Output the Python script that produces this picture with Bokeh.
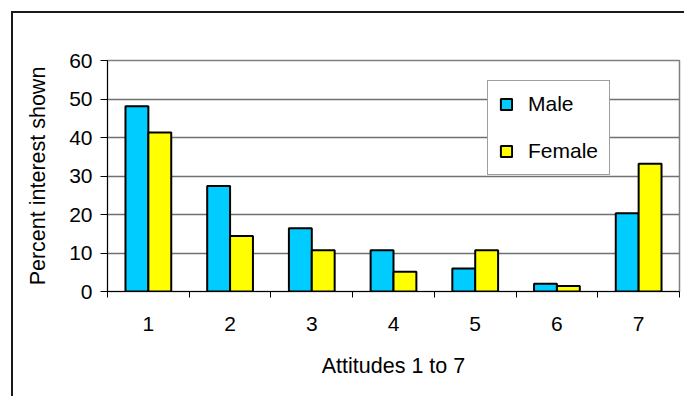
from bokeh.plotting import figure
from bokeh.models import ColumnDataSource, FixedTicker, Legend, LegendItem
from bokeh.embed import file_html
from bokeh.resources import INLINE
from bokeh.transform import dodge

# Attitude categories and the share of interest shown by each group
attitudes = [1, 2, 3, 4, 5, 6, 7]
male = [48.1, 27.4, 16.4, 10.7, 6.0, 2.0, 20.3]
female = [41.3, 14.4, 10.7, 5.1, 10.7, 1.4, 33.2]
y_ticks = [0, 10, 20, 30, 40, 50, 60]

FONT = "Liberation Sans"

source = ColumnDataSource(data=dict(x=attitudes, male=male, female=female))

p = figure(
    width=673, height=385,
    x_range=(0.5, 7.5), y_range=(0, 60),
    output_backend="svg", toolbar_location=None,
    min_border_left=94, min_border_right=7,
    min_border_top=47, min_border_bottom=107,
    background_fill_color="white", border_fill_color="white",
    outline_line_color="#808080", outline_line_width=1.5,
    styles={"border-left": "2px solid #1a1a1a", "border-top": "2px solid #1a1a1a"},
    margin=(11, 0, 0, 11),
)

r_male = p.vbar(x=dodge("x", -0.14, range=p.x_range), top="male", width=0.28,
                source=source, fill_color="#00CCFF", line_color="black", line_width=2)
r_female = p.vbar(x=dodge("x", 0.14, range=p.x_range), top="female", width=0.28,
                  source=source, fill_color="#FFFF00", line_color="black", line_width=2)

# Category labels sit at the centres, tick marks at the boundaries between groups
p.xaxis.ticker = FixedTicker(ticks=attitudes,
                             minor_ticks=[a - 0.5 for a in attitudes] + [attitudes[-1] + 0.5])
p.xaxis.major_tick_line_color = None
p.xaxis.minor_tick_line_color = "black"
p.xaxis.minor_tick_out = 6
p.xaxis.minor_tick_in = 0
p.xaxis.major_label_standoff = 19
p.xaxis.axis_label = "Attitudes 1 to 7"
p.xaxis.axis_label_standoff = 20

p.yaxis.ticker = FixedTicker(ticks=y_ticks)
p.yaxis.minor_tick_line_color = None
p.yaxis.major_tick_out = 7
p.yaxis.major_tick_in = 0
p.yaxis.major_label_standoff = 8
p.yaxis.axis_label = "Percent interest shown"
p.yaxis.axis_label_standoff = 16

for ax in (p.xaxis[0], p.yaxis[0]):
    ax.axis_line_color = "black"
    ax.axis_line_width = 1
    ax.major_label_text_font = FONT
    ax.major_label_text_font_size = "21px"
    ax.major_label_text_color = "black"
    ax.axis_label_text_font = FONT
    ax.axis_label_text_font_size = "21.5px"
    ax.axis_label_text_font_style = "normal"
    ax.axis_label_text_color = "black"

p.xgrid.grid_line_color = None
p.ygrid.ticker = FixedTicker(ticks=y_ticks)
p.ygrid.grid_line_color = "#707070"
p.ygrid.grid_line_width = 1.5

legend = Legend(
    items=[LegendItem(label="Male", renderers=[r_male]),
           LegendItem(label="Female", renderers=[r_female])],
    location=(380, 116),
    glyph_width=14, glyph_height=14, label_height=14,
    spacing=23, padding=11, label_standoff=15, margin=0,
    label_text_font=FONT, label_text_font_size="21px", label_text_color="black",
    border_line_color="#404040", border_line_width=1,
    background_fill_color="white", background_fill_alpha=1,
)
p.add_layout(legend)

open("out.html", "w").write(file_html(p, INLINE))
